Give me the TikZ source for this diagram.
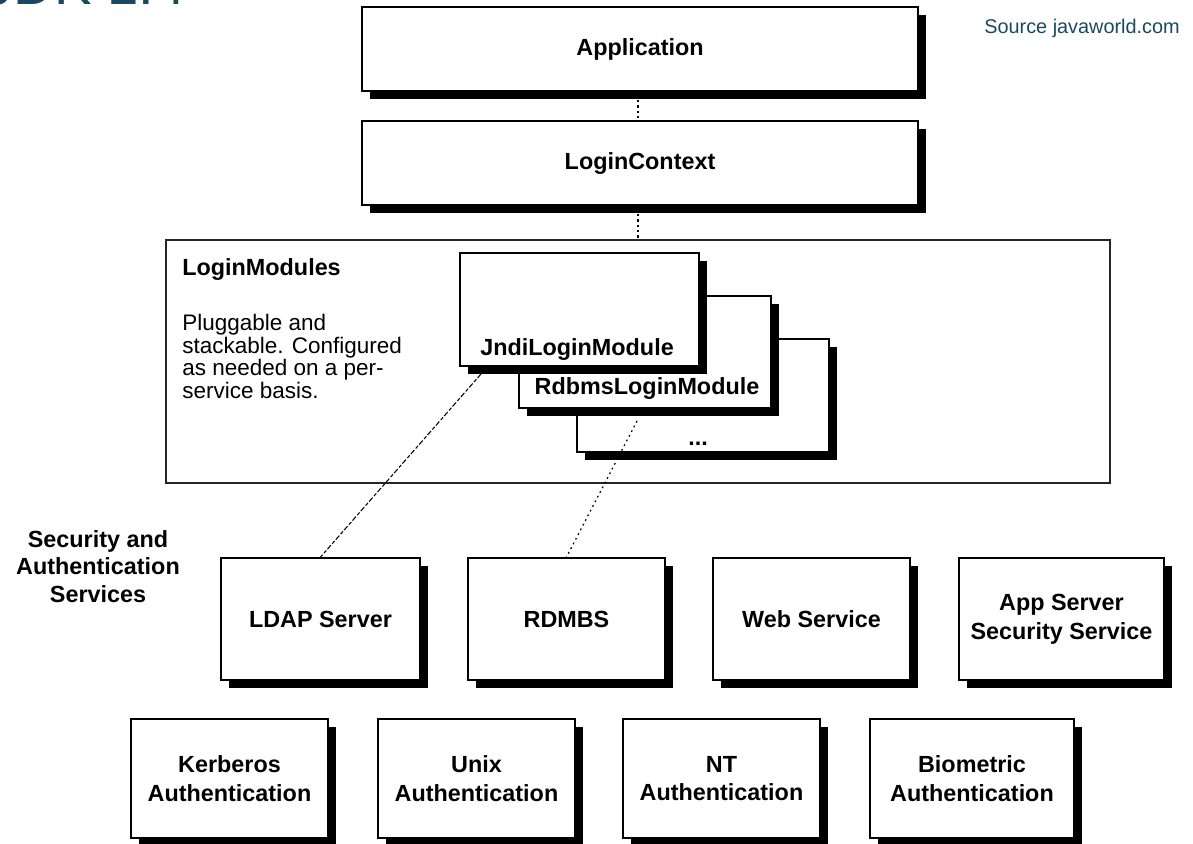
\documentclass[tikz,border=0pt]{standalone}
\usepackage{fontspec}
\setmainfont{Liberation Sans}
\usetikzlibrary{shadows,calc}
\definecolor{titleteal}{RGB}{23,74,96}
\tikzset{
  sz/.style 2 args={minimum width=#1*0.02cm, minimum height=#2*0.02cm},
  box/.style={draw=black, line width=1.1pt, fill=white, inner sep=0pt,
    drop shadow={shadow xshift=0.16cm, shadow yshift=-0.16cm, opacity=1, fill=black}},
  outerbox/.style={draw=black!85, line width=0.9pt, fill=white, inner sep=0pt},
  bt/.style={font=\fontsize{13.3}{16.4}\selectfont\bfseries, align=center, inner sep=0pt},
  rt/.style={font=\fontsize{12.8}{12.9}\selectfont, align=left, inner sep=0pt},
  vdot/.style={line width=0.9pt, dash pattern=on 1.4pt off 1.6pt},
  dashline/.style={line width=0.6pt, dash pattern=on 3pt off 1pt on 2pt off 1.2pt},
  dotline/.style={line width=0.7pt, dash pattern=on 1pt off 2pt},
}
\begin{document}
\begin{tikzpicture}[x=0.02cm,y=-0.02cm]
\useasboundingbox (0,0) rectangle (1193,843);
\clip (0,0) rectangle (1193,843);

% title and source
\node[anchor=base west, inner sep=0pt, text=titleteal, font=\fontsize{32}{34}\selectfont] (title) at (-15,4) {JDK 1.4};
\node[anchor=base west, inner sep=0pt, text=titleteal, font=\fontsize{11.3}{13}\selectfont] (src) at (984,33) {Source javaworld.com};

% top boxes
\node[box, sz={556}{84}] (app) at (640,49) {};
\node[bt, anchor=base] (appt) at (640,55) {Application};
\node[box, sz={556}{84}] (lc) at (640,163) {};
\node[bt, anchor=base] (lct) at (640,169) {LoginContext};

% LoginModules container
\node[outerbox, sz={944}{243}] (lm) at (638,361.5) {};
\node[bt, anchor=base west] (lmt) at (182,275) {LoginModules};
\node[rt, anchor=north west] (lmd) at (182,314) {Pluggable and\\stackable. Configured\\as needed on a per-\\service basis.};

% stacked modules
\node[box, sz={252}{113}] (dots) at (703,395.5) {};
\node[bt, anchor=base] (dotst) at (698,445) {...};
\node[box, sz={252}{112}] (rdbms) at (645,352) {};
\node[bt, anchor=base] (rdbmst) at (647,394) {RdbmsLoginModule};
\node[box, sz={239}{113}] (jndi) at (579.5,309.5) {};
\node[bt, anchor=base] (jndit) at (577,355) {JndiLoginModule};

% services label
\node[bt, align=center, anchor=north, font=\fontsize{13.3}{15.6}\selectfont\bfseries] (sec) at (98,530) {Security and\\Authentication\\Services};

% service boxes
\node[box, bt, sz={199}{122}] (ldap) at (320.5,619) {LDAP Server};
\node[box, bt, sz={197}{122}] (rdmbs) at (566.5,619) {RDMBS};
\node[box, bt, sz={197}{122}] (web) at (811.5,619) {Web Service};
\node[box, bt, sz={205}{122}] (appsrv) at (1061.5,619) {App Server\\Security Service};

% authentication boxes
\node[box, bt, sz={197}{119}] (kerb) at (229.5,778.5) {Kerberos\\Authentication};
\node[box, bt, sz={197}{119}] (unix) at (476.5,778.5) {Unix\\Authentication};
\node[box, bt, sz={197}{119}] (nt) at (721.5,778.5) {NT\\Authentication};
\node[box, bt, sz={204}{119}] (bio) at (972,778.5) {Biometric\\Authentication};

% connectors
\draw[vdot] ($(app.south)+(-2,8)$) -- ($(lc.north)+(-2,0)$);
\draw[vdot] ($(lc.south)+(-2,8)$) -- (lm.north);
\draw[dashline] ($(jndi.south west)+(22,7)$) -- (ldap.north);
\draw[dotline] ($(rdbms.south west)+(119,12)$) -- (rdmbs.north);
\end{tikzpicture}
\end{document}
